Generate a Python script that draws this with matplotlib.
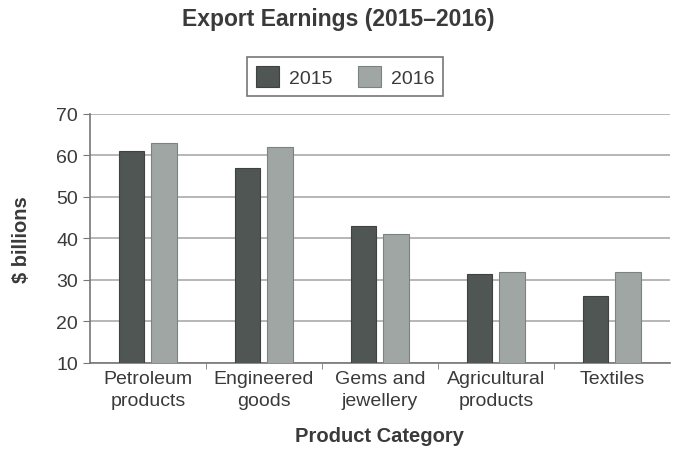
import matplotlib
matplotlib.use("Agg")
import matplotlib.pyplot as plt
import numpy as np

plt.rcParams.update({
    "font.family": "Liberation Sans",
    "font.size": 13,
})

categories = ["Petroleum\nproducts", "Engineered\ngoods", "Gems and\njewellery",
              "Agricultural\nproducts", "Textiles"]
earn_2015 = [61, 57, 43, 31.5, 26]
earn_2016 = [63, 62, 41, 32, 32]

DARK = "#505653"
LIGHT = "#a0a6a3"
TEXT = "#3a3a3a"

fig = plt.figure(figsize=(6.76, 4.56), dpi=100)
ax = fig.add_axes([0.133, 0.202, 0.858, 0.546])

x = np.arange(len(categories))
w = 0.22
ax.bar(x - 0.14, earn_2015, w, bottom=0, color=DARK, edgecolor="#3e4341",
       lw=0.8, label="2015", zorder=3)
ax.bar(x + 0.14, earn_2016, w, bottom=0, color=LIGHT, edgecolor="#7c8280",
       lw=0.8, label="2016", zorder=3)

ax.set_ylim(10, 70)
ax.set_xlim(-0.5, len(categories) - 0.5)
ax.set_yticks(range(10, 71, 10))
ax.set_xticks(x)
ax.set_xticklabels(categories, color=TEXT, fontsize=14, linespacing=1.4)
ax.set_xticks(np.arange(0.5, len(categories) - 0.5, 1), minor=True)
ax.tick_params(axis="x", which="major", length=0, pad=5)
ax.tick_params(axis="x", which="minor", length=4, color="#777777")
ax.tick_params(axis="y", length=5, color="#777777", labelcolor=TEXT, labelsize=14)

ax.yaxis.grid(True, color="#aaaaaa", lw=1.2, zorder=0)
ax.set_axisbelow(True)
for s in ["top", "right"]:
    ax.spines[s].set_visible(False)
ax.spines["left"].set_color("#777777")
ax.spines["bottom"].set_color("#777777")
ax.spines["left"].set_linewidth(1.2)
ax.spines["bottom"].set_linewidth(1.2)

ax.set_ylabel("\\$ billions", fontweight="bold", color=TEXT, fontsize=14.5, labelpad=18)
ax.set_xlabel("Product Category", fontweight="bold", color=TEXT, fontsize=14.5, labelpad=12)
fig.text(0.5, 0.958, "Export Earnings (2015\u20132016)", ha="center", va="center",
         fontweight="bold", color=TEXT, fontsize=16.5)

leg = ax.legend(loc="center", bbox_to_anchor=(0.44, 1.15), ncol=2, frameon=True,
                fancybox=False, edgecolor="#555555", fontsize=14,
                handlelength=1.2, handleheight=1.3, columnspacing=1.3,
                handletextpad=0.5, borderpad=0.45)
for t in leg.get_texts():
    t.set_color(TEXT)
leg.get_frame().set_linewidth(1.2)

fig.savefig("out.png", dpi=100)
